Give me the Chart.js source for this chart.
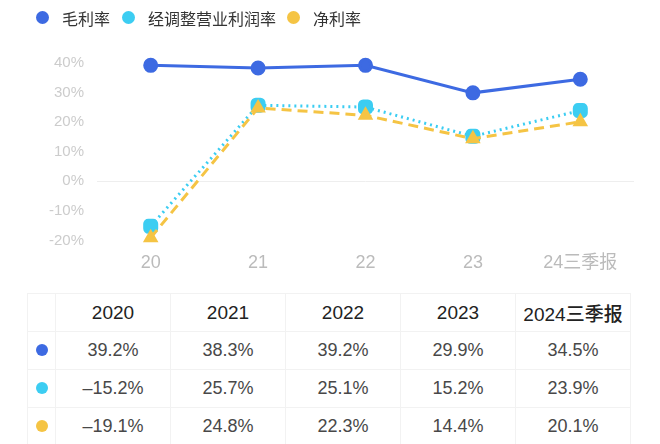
<!DOCTYPE html>
<html>
<head>
<meta charset="utf-8">
<script src="https://cdn.jsdelivr.net/npm/chart.js@4"></script>
<style>
  body { margin: 0; background: #fff; font-family: "Liberation Sans", "Noto Sans CJK SC", sans-serif; }
  #wrap { position: absolute; left: 0; top: 0; width: 660px; height: 278px; }
  #legend { position: absolute; left: 0; top: 0; width: 660px; height: 36px; font-family: "Noto Sans CJK SC", sans-serif; font-size: 16px; color: #333; }
  #legend .item { position: absolute; top: 8px; height: 20px; line-height: 20px; white-space: nowrap; }
  #legend .mark { position: absolute; left: -26px; top: 3px; width: 13px; height: 13px; border-radius: 50%; }
  table { position: absolute; left: 27px; top: 293px; border-collapse: collapse; }
  td, th { border: 1px solid #f2f2f2; height: 37px; text-align: center; padding: 0; }
  th { font-size: 19px; font-weight: 500; color: #222; width: 114px; }
  td { font-size: 18px; color: #484848; }
  th.first { width: 27px; }
  .dot { display: inline-block; width: 12px; height: 12px; border-radius: 50%; }
</style>
</head>
<body>
<div id="wrap"><canvas id="lineChart"></canvas></div>
<div id="legend"></div>
<table id="tbl"></table>
<script>
// chart data
const labels = ['20', '21', '22', '23', '24三季报'];
const years = ['2020', '2021', '2022', '2023', '2024三季报'];
const seriesNames = ['毛利率', '经调整营业利润率', '净利率'];
const grossMargin = [39.2, 38.3, 39.2, 29.9, 34.5];
const adjOpMargin = [-15.2, 25.7, 25.1, 15.2, 23.9];
const netMargin = [-19.1, 24.8, 22.3, 14.4, 20.1];
const yTicks = [-20, -10, 0, 10, 20, 30, 40];

const colors = ['#3d6ae2', '#3ccdf2', '#f5c444'];
const legendLeft = [62, 148, 313];

const ctx = document.getElementById('lineChart').getContext('2d');
const lineChart = new Chart(ctx, {
    type: 'line',
    data: {
        labels: labels,
        datasets: [{
            label: seriesNames[0],
            data: grossMargin,
            borderColor: colors[0],
            backgroundColor: colors[0],
            borderWidth: 3,
            pointRadius: 6,
            pointStyle: 'circle',
            order: 0
        }, {
            label: seriesNames[1],
            data: adjOpMargin,
            borderColor: colors[1],
            backgroundColor: colors[1],
            borderWidth: 3,
            borderDash: [2, 4],
            pointRadius: 7,
            pointStyle: 'rectRounded',
            order: 2
        }, {
            label: seriesNames[2],
            data: netMargin,
            borderColor: colors[2],
            backgroundColor: colors[2],
            borderWidth: 3,
            borderDash: [10, 6],
            pointRadius: 6,
            pointStyle: 'triangle',
            order: 1
        }]
    },
    options: {
        responsive: true,
        maintainAspectRatio: false,
        animation: false,
        clip: false,
        layout: { padding: { left: 30, right: 26, top: 63, bottom: 0 } },
        plugins: {
            tooltip: { enabled: false },
            legend: { display: false }
        },
        scales: {
            x: {
                offset: true,
                grid: { display: false },
                border: { display: false },
                ticks: { color: '#bbb', font: { size: 18, family: '"Liberation Sans", "Noto Sans CJK SC", sans-serif' }, padding: 4 }
            },
            y: {
                min: yTicks[0],
                max: yTicks[yTicks.length - 1],
                afterFit: (s) => { s.width = 67; },
                afterBuildTicks: (s) => { s.ticks = yTicks.map(v => ({ value: v })); },
                border: { display: false },
                grid: {
                    color: (c) => c.tick && c.tick.value === 0 ? '#eeeeee' : 'rgba(0,0,0,0)',
                    drawTicks: false
                },
                ticks: {
                    color: '#cccccc',
                    padding: 13,
                    font: { size: 15, family: '"Liberation Sans", sans-serif' },
                    callback: (v) => v + '%'
                }
            }
        }
    }
});

// legend from the dataset list
document.getElementById('legend').innerHTML = lineChart.data.datasets.map((d, i) =>
    '<span class="item" style="left:' + legendLeft[i] + 'px"><span class="mark" style="background:' +
    d.borderColor + '"></span>' + d.label + '</span>').join('');

// table below the chart
const fmt = (v) => (v < 0 ? '–' + Math.abs(v).toFixed(1) : v.toFixed(1)) + '%';
const rows = [grossMargin, adjOpMargin, netMargin];
let html = '<tr><th class="first"></th>' + years.map(y => '<th>' + y + '</th>').join('') + '</tr>';
rows.forEach((r, i) => {
    html += '<tr><td><span class="dot" style="background:' + colors[i] + '"></span></td>' +
        r.map(v => '<td>' + fmt(v) + '</td>').join('') + '</tr>';
});
document.getElementById('tbl').innerHTML = html;
</script>
</body>
</html>
